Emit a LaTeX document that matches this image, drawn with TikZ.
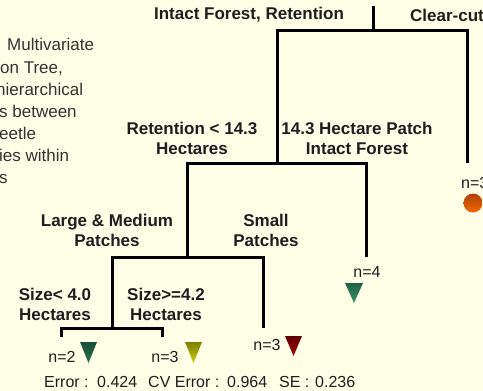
\documentclass[tikz,border=0pt]{standalone}
\usepackage{fontspec}
\setmainfont{Liberation Sans}
\usepackage{tikz}

\definecolor{slidebg}{RGB}{255,255,232}
\definecolor{inktext}{RGB}{30,30,30}
\definecolor{bodytext}{RGB}{50,50,50}

\begin{document}
\begin{tikzpicture}[x=1pt,y=1pt]
\tikzstyle{every node}+=[inner sep=0pt]
\tikzstyle{split}=[font=\bfseries\fontsize{17}{20}\selectfont, text=inktext, align=center]
\tikzstyle{count}=[font=\fontsize{16}{18}\selectfont, text=inktext]
\tikzstyle{caption}=[font=\fontsize{17}{20}\selectfont, text=bodytext, anchor=base west]
\tikzstyle{branch}=[line width=3pt, black, line join=miter]
\fill [slidebg] (0,0) rectangle (483,-391);
\useasboundingbox (0,0) rectangle (483,-391);
% side text
\node [caption] (cap1) at (7,-50) {Multivariate};
\node [caption] (cap2) at (0,-73) {on Tree,};
\node [caption] (cap3) at (-4,-95) {hierarchical};
\node [caption] (cap4) at (-1,-117) {s between};
\node [caption] (cap5) at (-1,-139) {eetle};
\node [caption] (cap6) at (-1,-161) {ies within};
\node [caption] (cap7) at (-1,-183) {s};
% tree junctions
\coordinate (top) at (373,-6);
\coordinate (j1) at (373,-30);
\coordinate (n1) at (277,-163);
\coordinate (cut) at (467,-163);
\coordinate (n2) at (187,-257);
\coordinate (big) at (366,-257);
\coordinate (n3) at (112,-328);
\coordinate (small) at (263,-328);
\coordinate (lt4) at (61,-337);
\coordinate (ge4) at (162,-337);
\draw [branch] (top) -- (j1);
\draw [branch] (n1) -- (n1 |- j1) -- (cut |- j1) -- (cut);
\draw [branch] (n2) -- (n2 |- n1) -- (big |- n1) -- (big);
\draw [branch] (n3) -- (n3 |- n2) -- (small |- n2) -- (small);
\draw [branch] (lt4) -- (lt4 |- n3) -- (ge4 |- n3) -- (ge4);
% split labels
\node [split] (forest) at (249,-15) {Intact Forest, Retention};
\node [split, anchor=west] (clear) at (410,-15) {Clear-cut};
\node [split] (ret) at (192,-138) {Retention < 14.3\\Hectares};
\node [split] (patch) at (357,-138) {14.3 Hectare Patch\\Intact Forest};
\node [split] (large) at (107,-230) {Large \& Medium\\Patches};
\node [split] (smallp) at (266,-230) {Small\\Patches};
\node [split] (sizelt) at (55,-304) {Size< 4.0\\Hectares};
\node [split] (sizege) at (166,-304) {Size>=4.2\\Hectares};
% leaves
\node [count] (c1) at (62,-357) {n=2};
\shade [top color={rgb,255:red,28;green,78;blue,56}, bottom color={rgb,255:red,38;green,115;blue,80}] (80,-342) -- (97,-342) -- (88.5,-363) -- cycle;
\node [count] (c2) at (165,-357) {n=3};
\shade [top color={rgb,255:red,125;green,125;blue,0}, bottom color={rgb,255:red,205;green,205;blue,15}] (185,-342) -- (202,-342) -- (193.5,-363) -- cycle;
\node [count] (c3) at (267,-345) {n=3};
\shade [top color={rgb,255:red,95;green,0;blue,0}, bottom color={rgb,255:red,170;green,0;blue,0}] (285,-336) -- (302,-336) -- (293.5,-356) -- cycle;
\node [count] (c4) at (367,-272) {n=4};
\shade [top color={rgb,255:red,32;green,95;blue,68}, bottom color={rgb,255:red,55;green,150;blue,102}] (345,-283) -- (363,-283) -- (354,-303) -- cycle;
\node [count, anchor=west] (c5) at (461,-183) {n=3};
\shade [top color={rgb,255:red,175;green,65;blue,5}, bottom color={rgb,255:red,240;green,105;blue,0}] (473,-203) circle (9.5);
% fit summary
\node [count, anchor=west] (err) at (44,-382) {Error :};
\node [count, anchor=west] (errv) at (97,-382) {0.424};
\node [count, anchor=west] (cve) at (148,-382) {CV Error :};
\node [count, anchor=west] (cvev) at (227,-382) {0.964};
\node [count, anchor=west] (se) at (279,-382) {SE :};
\node [count, anchor=west] (sev) at (315,-382) {0.236};
\end{tikzpicture}
\end{document}
